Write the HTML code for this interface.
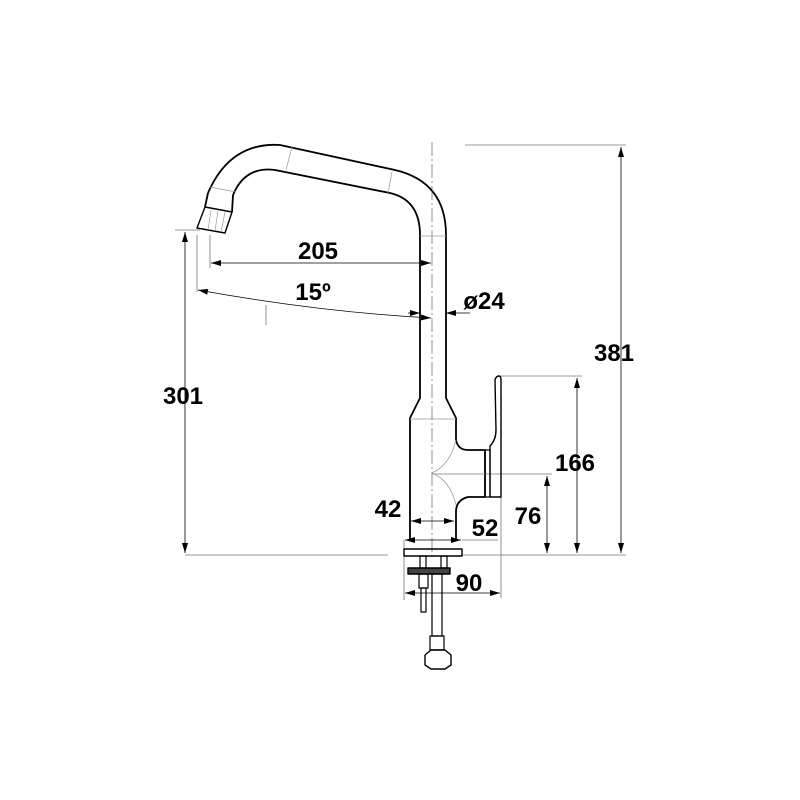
<!DOCTYPE html>
<html><head><style>html,body{margin:0;padding:0;background:#fff}svg{display:block}</style></head>
<body>
<svg width="800" height="800" viewBox="0 0 800 800" xmlns="http://www.w3.org/2000/svg" font-family="Liberation Sans, sans-serif">
<defs>
<marker id="a" markerWidth="10" markerHeight="6" refX="10" refY="3" orient="auto-start-reverse" markerUnits="userSpaceOnUse"><path d="M0,0 L10,3 L0,6 Z" fill="#000"/></marker>
</defs>
<g fill="none" stroke="#777" stroke-width="0.8">
<line x1="465" y1="145" x2="626" y2="145"/>
<line x1="185" y1="555" x2="388" y2="555"/>
<line x1="462" y1="555" x2="626" y2="555"/>
<line x1="175" y1="230" x2="200" y2="230"/>
<line x1="501" y1="376" x2="582" y2="376"/>
<line x1="432" y1="474" x2="552" y2="474"/>
<line x1="210" y1="235" x2="210" y2="268"/>
<line x1="197" y1="235" x2="197" y2="292"/>
<line x1="404" y1="540" x2="404" y2="600"/>
<line x1="501" y1="497" x2="501" y2="598"/>
<line x1="462" y1="540" x2="498" y2="540"/>
<line x1="266" y1="305" x2="266" y2="325"/>
<line x1="432" y1="142" x2="432" y2="560" stroke-dasharray="14,3,2,3"/>
</g>
<g stroke="#000" stroke-width="0.8" fill="none">
<line x1="621" y1="147" x2="621" y2="553" marker-start="url(#a)" marker-end="url(#a)"/>
<line x1="185" y1="232" x2="185" y2="553" marker-start="url(#a)" marker-end="url(#a)"/>
<line x1="577" y1="378" x2="577" y2="553" marker-start="url(#a)" marker-end="url(#a)"/>
<line x1="547" y1="476" x2="547" y2="553" marker-start="url(#a)" marker-end="url(#a)"/>
<line x1="211" y1="263" x2="431" y2="263" marker-start="url(#a)" marker-end="url(#a)"/>
<path d="M198,290 Q320,312 431,318" marker-start="url(#a)" marker-end="url(#a)"/>
<line x1="408" y1="313" x2="420" y2="313" marker-end="url(#a)"/>
<line x1="470" y1="313" x2="446" y2="313" marker-end="url(#a)"/>
<line x1="411" y1="521" x2="454" y2="521" marker-start="url(#a)" marker-end="url(#a)"/>
<line x1="405" y1="540" x2="461" y2="540" marker-start="url(#a)" marker-end="url(#a)"/>
<line x1="405" y1="593" x2="500" y2="593" marker-start="url(#a)" marker-end="url(#a)"/>
</g>
<g stroke="#000" stroke-width="1.8" fill="none" stroke-linejoin="round">
<path d="M208,193 Q230,142 280,145 L395,170 Q446,182 446,235 L446,398 L456,418 L456,440 Q458,450 468,450 L485,450 L485,497 L468,497 Q456,500 456,512 L456,540"/>
<path d="M233,195 Q245,166 275,170 L390,193 Q420,200 420,235 L420,398 L410,418 L410,540"/>
<path d="M205,207 L232,212 L225,233 L197,228 Z" stroke-width="1.4"/>
<path d="M208,193 L205,207 M233,195 L232,212"/>
<rect x="485" y="450" width="5" height="47" stroke-width="1.2"/>
<path d="M490,497 L490,446 Q496,440 496,430 L495,380 Q496,376 499,376 Q501,376 501,380 L501,497 Z" stroke-width="1.4"/>
<rect x="404" y="549" width="58" height="7" stroke-width="1.4"/>
<rect x="420" y="556" width="6" height="12" stroke-width="1.2"/>
<rect x="441" y="556" width="6" height="12" stroke-width="1.2"/>
<rect x="408" y="568" width="42" height="6" stroke-width="1.4" fill="#444"/>
<rect x="419" y="574" width="9" height="14" stroke-width="1.2"/>
<rect x="421" y="588" width="5" height="24" stroke-width="1.2"/>
<rect x="432" y="574" width="10" height="62" stroke-width="1.2"/>
<rect x="430" y="636" width="14" height="14" stroke-width="1.2"/>
<path d="M425,655 L431,650 L445,650 L451,655 L451,665 L445,669 L431,669 L425,665 Z" stroke-width="1.4"/>
</g>
<g stroke="#999" stroke-width="0.7" fill="none">
<path d="M211,210 L208,230 M218,211 L215,231 M225,212 L221,232"/>
<path d="M210,187 L236,192"/>
<line x1="292" y1="147" x2="286" y2="170"/>
<line x1="392" y1="172" x2="388" y2="193"/>
<line x1="420" y1="236" x2="446" y2="236"/>
<line x1="410" y1="419" x2="456" y2="419"/>
<path d="M456,440 Q450,465 432,473 Q450,480 456,505"/>
<line x1="432" y1="474" x2="485" y2="474"/>
</g>
<g font-weight="bold" font-size="24" fill="#000" text-anchor="middle">
<text x="318" y="259">205</text>
<text x="313" y="300">15º</text>
<text x="484" y="309">ø24</text>
<text x="614" y="361">381</text>
<text x="183" y="404">301</text>
<text x="575" y="471">166</text>
<text x="528" y="524">76</text>
<text x="388" y="517">42</text>
<text x="485" y="536">52</text>
<text x="469" y="591">90</text>
</g>
</svg>
</body></html>
